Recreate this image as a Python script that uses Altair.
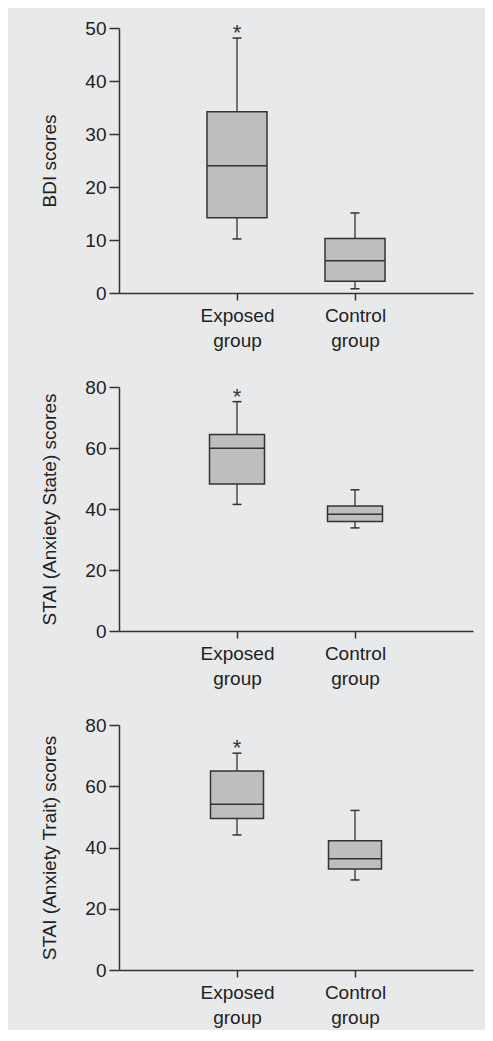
import altair as alt
import pandas as pd

groups = ["Exposed group", "Control group"]

bdi_min = [10.2, 0.8]
bdi_q1 = [14.2, 2.2]
bdi_med = [24.0, 6.1]
bdi_q3 = [34.2, 10.3]
bdi_max = [48.1, 15.1]

state_min = [41.5, 33.8]
state_q1 = [48.2, 35.9]
state_med = [59.9, 38.3]
state_q3 = [64.4, 41.0]
state_max = [75.2, 46.3]

trait_min = [44.1, 29.4]
trait_q1 = [49.5, 33.0]
trait_med = [54.1, 36.3]
trait_q3 = [65.0, 42.2]
trait_max = [70.8, 52.1]

stars = ["*", ""]

BG = "#e8e9eb"
FILL = "#bdbec0"
INK = "#333333"
FONT = "Liberation Sans"


def panel(mins, q1, med, q3, mx, title, dmax, ticks, h, box_w):
    df = pd.DataFrame({"group": groups, "lo": mins, "q1": q1, "med": med,
                       "q3": q3, "hi": mx, "star": stars})
    x = alt.X("group:N", sort=groups, title=None,
              scale=alt.Scale(type="point", padding=1),
              axis=alt.Axis(labelAngle=0, labelExpr="split(datum.label, ' ')",
                            tickSize=7, labelPadding=6, labelLineHeight=25,
                            labelFontSize=19))
    ysc = alt.Scale(domain=[0, dmax], nice=False)
    yax = alt.Axis(values=ticks, tickSize=10, labelPadding=3, grid=False,
                   titlePadding=25, titleFontSize=19, labelFontSize=19,
                   titleFontWeight="normal")
    base = alt.Chart(df)
    whisk = base.mark_rule(color=INK, strokeWidth=1.3).encode(
        x=x, y=alt.Y("lo:Q", scale=ysc, axis=yax, title=title), y2="hi:Q")
    box = base.mark_bar(size=box_w, fill=FILL, stroke=INK, strokeWidth=1.5).encode(
        x=x, y=alt.Y("q1:Q", scale=ysc), y2="q3:Q")
    medt = base.mark_tick(size=box_w, thickness=1.5, color=INK, opacity=1).encode(
        x=x, y=alt.Y("med:Q", scale=ysc))
    caplo = base.mark_tick(size=9, thickness=1.5, color=INK, opacity=1).encode(
        x=x, y=alt.Y("lo:Q", scale=ysc))
    caphi = base.mark_tick(size=9, thickness=1.5, color=INK, opacity=1).encode(
        x=x, y=alt.Y("hi:Q", scale=ysc))
    star = base.mark_text(fontSize=22, font=FONT, color=INK, baseline="bottom",
                          dy=7).encode(
        x=x, y=alt.Y("hi:Q", scale=ysc), text="star:N")
    return alt.layer(whisk, box, medt, caplo, caphi, star).properties(
        width=354, height=h)


p1 = panel(bdi_min, bdi_q1, bdi_med, bdi_q3, bdi_max, "BDI scores", 50,
           [0, 10, 20, 30, 40, 50], 265, 60)
p2 = panel(state_min, state_q1, state_med, state_q3, state_max,
           "STAI (Anxiety State) scores", 80, [0, 20, 40, 60, 80], 244, 55)
p3 = panel(trait_min, trait_q1, trait_med, trait_q3, trait_max,
           "STAI (Anxiety Trait) scores", 80, [0, 20, 40, 60, 80], 245, 53)

chart = alt.vconcat(p1, p2, p3, spacing=28).properties(
    background=BG,
    padding={"left": 32, "top": 11, "right": 12, "bottom": 3},
).configure_view(stroke=None).configure_axis(
    domainColor=INK, tickColor=INK, labelColor="#222222", titleColor="#222222",
    labelFont=FONT, titleFont=FONT, domainWidth=1.5, tickWidth=1.5,
)

chart.save("out.html", embed_options={"renderer": "svg", "actions": False})
